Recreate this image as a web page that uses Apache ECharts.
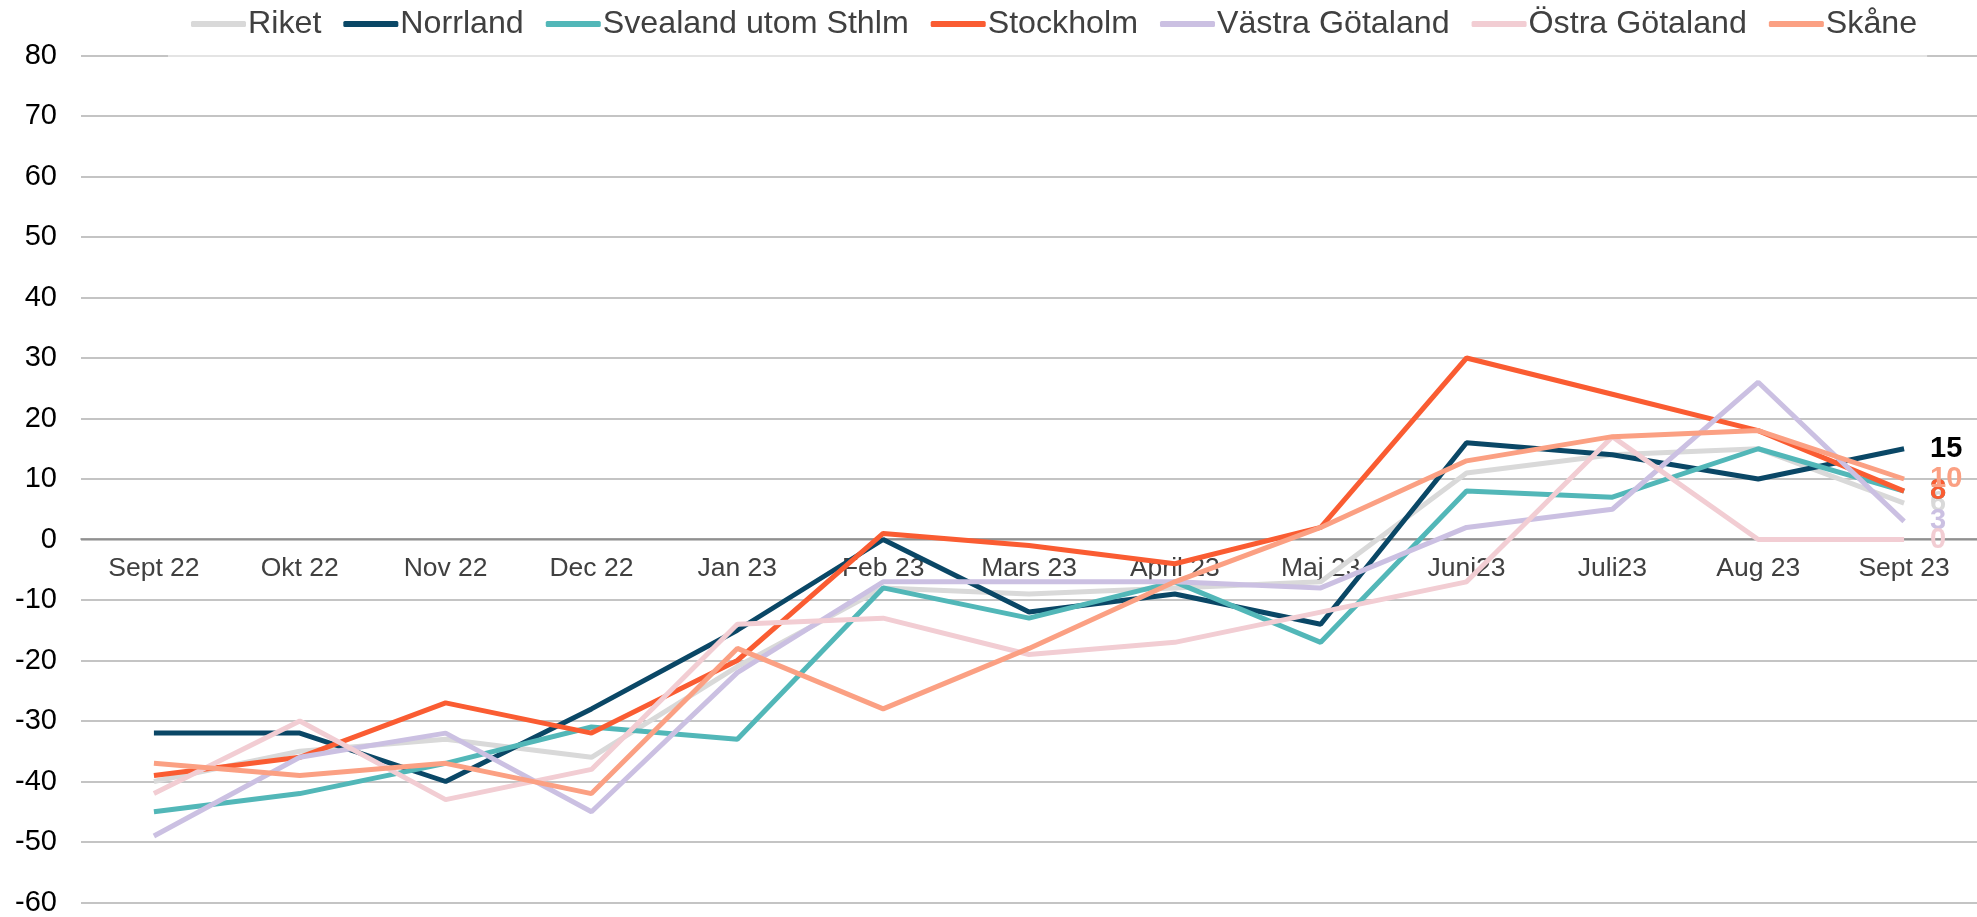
<!DOCTYPE html>
<html>
<head>
<meta charset="utf-8">
<script src="https://cdn.jsdelivr.net/npm/echarts@6/dist/echarts.min.js"></script>
<style>html,body{margin:0;padding:0;background:#fff;}#c{width:1977px;height:917px;}</style>
</head>
<body>
<div id="c"></div>
<script>
const categories = ['Sept 22','Okt 22','Nov 22','Dec 22','Jan 23','Feb 23','Mars 23','April 23','Maj 23','Juni23','Juli23','Aug 23','Sept 23'];
const riket     = [-40,-35,-33,-36,-21,-8,-9,-8,-7,11,14,15,6];
const norrland  = [-32,-32,-40,-28,-15,0,-12,-9,-14,16,14,10,15];
const svealand  = [-45,-42,-37,-31,-33,-8,-13,-7,-17,8,7,15,8];
const stockholm = [-39,-36,-27,-32,-20,1,-1,-4,2,30,24,18,8];
const vastra    = [-49,-36,-32,-45,-22,-7,-7,-7,-8,2,5,26,3];
const ostra     = [-42,-30,-43,-38,-14,-13,-19,-17,-12,-7,17,0,0];
const skane     = [-37,-39,-37,-42,-18,-28,-18,-7,2,13,17,18,10];
const yTicks = {min:-60, max:80, interval:10};

const seriesDefs = [
  {name:'Riket', data:riket, color:'#D9D9D9', label:'#D9D9D9'},
  {name:'Norrland', data:norrland, color:'#0A4766', label:'#000000'},
  {name:'Svealand utom Sthlm', data:svealand, color:'#52B7B8', label:'#52B7B8'},
  {name:'Stockholm', data:stockholm, color:'#FA5C32', label:'#FA5C32'},
  {name:'Västra Götaland', data:vastra, color:'#CBC0E2', label:'#CBC0E2'},
  {name:'Östra Götaland', data:ostra, color:'#F2CDD3', label:'#F2CDD3'},
  {name:'Skåne', data:skane, color:'#FBA083', label:'#FBA083'}
];

const GRID_TOP = 55.5, GRID_BOTTOM = 13.5, H = 917;
const plotH = H - GRID_TOP - GRID_BOTTOM;
const zeroY = GRID_TOP + plotH * (yTicks.max - 0) / (yTicks.max - yTicks.min);
const xOffset = zeroY - (H - GRID_BOTTOM);

const chart = echarts.init(document.getElementById('c'), null, {renderer:'canvas'});
chart.setOption({
  animation:false,
  backgroundColor:'#ffffff',
  textStyle:{fontFamily:'"Liberation Sans", Arial, sans-serif'},
  legend:{
    left:168, top:0,
    padding:[8,10,18,23],
    backgroundColor:'rgba(255,255,255,0.55)',
    itemWidth:55, itemHeight:6, itemGap:22,
    icon:'roundRect',
    textStyle:{fontSize:32.2, color:'#404040', fontFamily:'"Liberation Sans", Arial, sans-serif', padding:[0,0,0,-3]},
    data:seriesDefs.map(s=>s.name)
  },
  grid:{left:81, right:-11, top:GRID_TOP, bottom:GRID_BOTTOM, containLabel:false},
  xAxis:{
    type:'category', data:categories, boundaryGap:true,
    position:'bottom', offset:xOffset,
    axisLine:{onZero:false, lineStyle:{color:'#7F7F7F', width:1.5}},
    axisTick:{show:false},
    axisLabel:{fontSize:26.5, color:'#404040', margin:16, interval:0},
    splitLine:{show:false}
  },
  yAxis:{
    type:'value', min:yTicks.min, max:yTicks.max, interval:yTicks.interval,
    axisLine:{show:false}, axisTick:{show:false},
    axisLabel:{fontSize:29, color:'#000000', margin:24},
    splitLine:{lineStyle:{color:'#C4C4C4', width:2}}
  },
  series:seriesDefs.map(s=>({
    name:s.name, type:'line', data:s.data, symbol:'none',
    lineStyle:{color:s.color, width:5},
    itemStyle:{color:s.color},
    endLabel:{show:true, formatter:'{c}', color:s.label, fontSize:29, fontWeight:'bold', distance:26, fontFamily:'"Liberation Sans", Arial, sans-serif'}
  }))
});
</script>
</body>
</html>
